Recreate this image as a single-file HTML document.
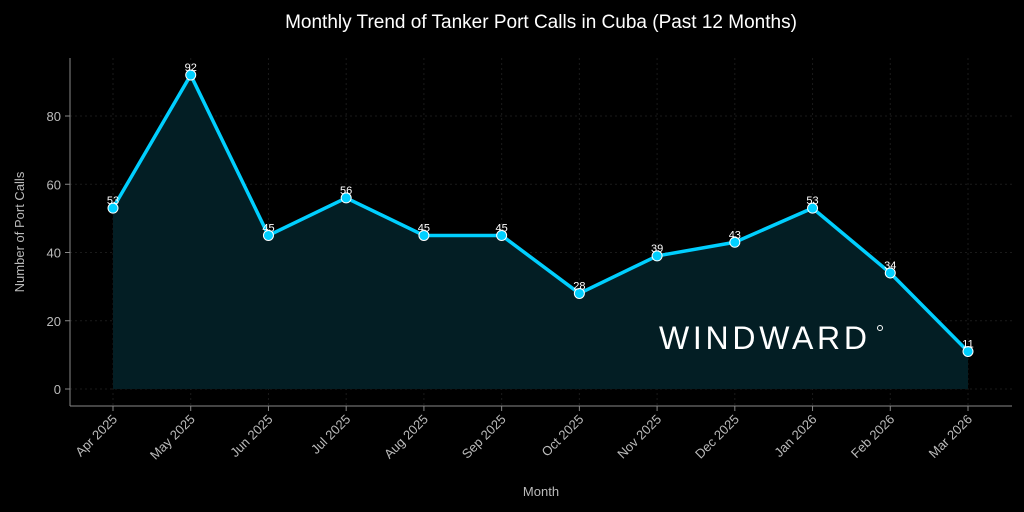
<!DOCTYPE html>
<html><head><meta charset="utf-8"><style>
html,body{margin:0;padding:0;background:#000;}
svg{display:block;font-family:"Liberation Sans",sans-serif;}
</style></head><body>
<svg id="chart" width="1024" height="512" viewBox="0 0 1024 512">
<rect width="1024" height="512" fill="#000"/>
<text x="541" y="28" fill="#fff" font-size="19" text-anchor="middle">Monthly Trend of Tanker Port Calls in Cuba (Past 12 Months)</text>
<g id="grid"></g>
<path id="area" fill="#031e24"/>
<text x="659" y="349" fill="#fff" font-size="32" font-weight="normal" textLength="208" lengthAdjust="spacing">WINDWARD</text>
<circle cx="880" cy="328" r="2.5" fill="none" stroke="#fff" stroke-width="1"/>
<line x1="70" y1="58" x2="70" y2="406" stroke="#888" stroke-width="1"/>
<line x1="70" y1="406" x2="1012" y2="406" stroke="#888" stroke-width="1"/>
<g id="yticks"></g><g id="xticks"></g>
<path id="line" fill="none" stroke="#00cfff" stroke-width="3.5" stroke-linejoin="round"/>
<g id="points"></g>
<text transform="translate(24,232) rotate(-90)" fill="#bbb" font-size="13" text-anchor="middle">Number of Port Calls</text>
<text x="541" y="496" fill="#bbb" font-size="13" text-anchor="middle">Month</text>
</svg>
<script>
const months = ["Apr 2025","May 2025","Jun 2025","Jul 2025","Aug 2025","Sep 2025","Oct 2025","Nov 2025","Dec 2025","Jan 2026","Feb 2026","Mar 2026"];
const calls = [53,92,45,56,45,45,28,39,43,53,34,11];
const yTicks = [0,20,40,60,80];
const NS="http://www.w3.org/2000/svg";
const x = i => 113 + i*(968-113)/(months.length-1);
const y = v => 389 - v*(389-116)/80;
function mk(tag, attrs, parent){const e=document.createElementNS(NS,tag);for(const k in attrs)e.setAttribute(k,attrs[k]);document.getElementById(parent).appendChild(e);return e;}
yTicks.forEach(t=>{
  const g=mk('line',{x1:70,x2:1012,y1:y(t),y2:y(t),stroke:'#1a1a1a','stroke-dasharray':'2,3','stroke-width':1},'grid');
  
  
  const tk=mk('line',{x1:65,x2:70,y1:y(t),y2:y(t),stroke:'#888'},'yticks');
  
  
  const tx=mk('text',{x:61,y:y(t)+5,fill:'#bbb','font-size':13,'text-anchor':'end'},'yticks');
  tx.textContent=t;
  
  
});
months.forEach((m,i)=>{
  const g=mk('line',{x1:x(i),x2:x(i),y1:58,y2:406,stroke:'#1a1a1a','stroke-dasharray':'2,3'},'grid');
  
  
  const tk=mk('line',{x1:x(i),x2:x(i),y1:406,y2:411,stroke:'#888'},'xticks');
  
  
  const tx=mk('text',{transform:`translate(${x(i)+5},${420}) rotate(-45)`,fill:'#bbb','font-size':13,'text-anchor':'end'},'xticks');
  tx.textContent=m;
  
  
});
let d=calls.map((v,i)=>(i?'L':'M')+x(i)+','+y(v)).join(' ');
document.getElementById('line').setAttribute('d',d);
document.getElementById('area').setAttribute('d',d+` L${x(calls.length-1)},${y(0)} L${x(0)},${y(0)} Z`);
calls.forEach((v,i)=>{
  const c=mk('circle',{cx:x(i),cy:y(v),r:5,fill:'#00cfff',stroke:'#fff','stroke-width':1},'points');
  
  
  const t=mk('text',{x:x(i),y:y(v)-4,fill:'#fff','font-size':11,'text-anchor':'middle'},'points');
  t.textContent=v;
  
  
});
</script>
</body></html>
